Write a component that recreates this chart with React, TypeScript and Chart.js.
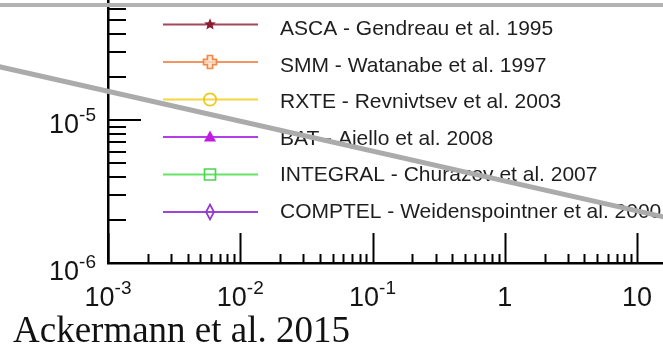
import React, { useEffect, useRef } from 'react';
import { Chart, registerables } from 'chart.js';

Chart.register(...registerables);

type Pt = { x: number; y: number };

// Surveys listed in the key
const surveyLabels = [
  'ASCA - Gendreau et al. 1995',
  'SMM - Watanabe et al. 1997',
  'RXTE - Revnivtsev et al. 2003',
  'BAT - Ajello et al. 2008',
  'INTEGRAL - Churazov et al. 2007',
  'COMPTEL - Weidenspointner et al. 2000',
];

// Spectral points per survey; every measured point sits above this flux window,
// so nothing of them falls inside the plotted range.
const ascaPoints: Pt[] = [];
const smmPoints: Pt[] = [];
const rxtePoints: Pt[] = [];
const batPoints: Pt[] = [];
const integralPoints: Pt[] = [];
const comptelPoints: Pt[] = [];

// Axis ranges (energy on x, flux on y)
const energyMin = 1e-3;
const energyMax = 15.7;
const fluxMin = 1e-6;
const fluxMax = 6.9e-5;

// Labelled ticks
const xTickValues = [1e-3, 1e-2, 1e-1, 1, 10];
const xTickLabels = ['10^-3', '10^-2', '10^-1', '1', '10'];
const yTickValues = [1e-6, 1e-5];
const yTickLabels = ['10^-6', '10^-5'];

// Grey guide strokes laid over the panel
const guideTop: Pt[] = [
  { x: 1e-4, y: 6.37e-5 },
  { x: 20, y: 6.37e-5 },
];
const guideDiagonal: Pt[] = [
  { x: 1e-4, y: 2.57e-5 },
  { x: 20, y: 2.0e-6 },
];

const captionText = 'Ackermann et al. 2015';

// Styling for each survey entry
const surveyStyles = [
  { line: '#a1495a', marker: '#8c1b2d', shape: 'star' },
  { line: '#f39561', marker: '#ef8a4d', shape: 'plus' },
  { line: '#f6d640', marker: '#ecc81e', shape: 'circle' },
  { line: '#b13ee6', marker: '#c21ce4', shape: 'triangle' },
  { line: '#66e466', marker: '#4fd54f', shape: 'square' },
  { line: '#9f44d8', marker: '#9236d0', shape: 'diamond' },
];

const SANS = '"Liberation Sans", Arial, Helvetica, sans-serif';

function drawMarker(ctx: CanvasRenderingContext2D, shape: string, x: number, y: number, color: string) {
  ctx.save();
  ctx.lineWidth = 1.7;
  ctx.strokeStyle = color;
  ctx.fillStyle = color;
  ctx.beginPath();
  if (shape === 'star') {
    const R = 6.2;
    const r = 2.7;
    for (let k = 0; k < 10; k++) {
      const a = -Math.PI / 2 + (k * Math.PI) / 5;
      const rad = k % 2 ? r : R;
      ctx.lineTo(x + rad * Math.cos(a), y + rad * Math.sin(a));
    }
    ctx.closePath();
    ctx.fill();
  } else if (shape === 'plus') {
    const a = 6.5;
    const b = 2.6;
    const pts = [
      [-b, -a], [b, -a], [b, -b], [a, -b], [a, b], [b, b],
      [b, a], [-b, a], [-b, b], [-a, b], [-a, -b], [-b, -b],
    ];
    pts.forEach(([px, py]) => ctx.lineTo(x + px, y + py));
    ctx.closePath();
    ctx.fillStyle = 'rgba(255,225,200,0.75)';
    ctx.fill();
    ctx.stroke();
  } else if (shape === 'circle') {
    ctx.arc(x, y, 6.2, 0, Math.PI * 2);
    ctx.stroke();
  } else if (shape === 'triangle') {
    ctx.moveTo(x, y - 6.5);
    ctx.lineTo(x + 6, y + 4.5);
    ctx.lineTo(x - 6, y + 4.5);
    ctx.closePath();
    ctx.fill();
  } else if (shape === 'square') {
    ctx.rect(x - 5.5, y - 5.5, 11, 11);
    ctx.stroke();
  } else if (shape === 'diamond') {
    ctx.moveTo(x, y - 7.5);
    ctx.lineTo(x + 4, y);
    ctx.lineTo(x, y + 7.5);
    ctx.lineTo(x - 4, y);
    ctx.closePath();
    ctx.stroke();
  }
  ctx.restore();
}

// Draws "10^-5" style text with a raised exponent; returns nothing.
function drawPowerLabel(
  ctx: CanvasRenderingContext2D,
  label: string,
  anchorX: number,
  baseline: number,
  align: 'center' | 'right'
) {
  const [base, exp] = label.split('^');
  const baseFont = `27px ${SANS}`;
  const expFont = `19px ${SANS}`;
  ctx.font = baseFont;
  const wBase = ctx.measureText(base).width;
  ctx.font = expFont;
  const wExp = exp ? ctx.measureText(exp).width : 0;
  const total = wBase + wExp;
  const left = align === 'center' ? anchorX - total / 2 : anchorX - total;
  ctx.textAlign = 'left';
  ctx.textBaseline = 'alphabetic';
  ctx.font = baseFont;
  ctx.fillText(base, left, baseline);
  if (exp) {
    ctx.font = expFont;
    ctx.fillText(exp, left + wBase, baseline - 12);
  }
}

const axisDecor = {
  id: 'axisDecor',
  beforeDatasetsDraw(chart: any) {
    const { ctx, chartArea, scales } = chart;
    const xs = scales.x;
    const ys = scales.y;
    ctx.save();
    ctx.strokeStyle = '#000';
    ctx.lineWidth = 2;

    // inward minor and major ticks on the energy axis
    for (let d = -3; d <= 1; d++) {
      for (let m = 1; m <= 9; m++) {
        const v = m * Math.pow(10, d);
        if (v < energyMin || v > energyMax) continue;
        const px = Math.round(xs.getPixelForValue(v)) + 0.5;
        const len = m === 1 ? 30 : 9;
        ctx.beginPath();
        ctx.moveTo(px, chartArea.bottom);
        ctx.lineTo(px, chartArea.bottom - len);
        ctx.stroke();
      }
    }
    // inward minor and major ticks on the flux axis
    for (let d = -6; d <= -4; d++) {
      for (let m = 1; m <= 9; m++) {
        const v = m * Math.pow(10, d);
        if (v < fluxMin || v > fluxMax) continue;
        const py = Math.round(ys.getPixelForValue(v));
        const len = m === 1 ? 33 : 18;
        ctx.beginPath();
        ctx.moveTo(chartArea.left, py);
        ctx.lineTo(chartArea.left + len, py);
        ctx.stroke();
      }
    }

    // tick labels
    ctx.fillStyle = '#141414';
    xTickValues.forEach((v, i) => {
      drawPowerLabel(ctx, xTickLabels[i], xs.getPixelForValue(v), chartArea.bottom + 43, 'center');
    });
    yTickValues.forEach((v, i) => {
      const py = ys.getPixelForValue(v);
      const drop = v === fluxMin ? 17 : 13;
      drawPowerLabel(ctx, yTickLabels[i], chartArea.left - 12, py + drop, 'right');
    });

    // key
    surveyLabels.forEach((label, i) => {
      const st = surveyStyles[i];
      const ly = 24.5 + i * 37.5;
      ctx.strokeStyle = st.line;
      ctx.lineWidth = 2;
      ctx.beginPath();
      ctx.moveTo(163, ly);
      ctx.lineTo(258, ly);
      ctx.stroke();
      drawMarker(ctx, st.shape, 210, ly, st.marker);
      ctx.fillStyle = '#1e1e1e';
      ctx.font = `21px ${SANS}`;
      ctx.textAlign = 'left';
      ctx.textBaseline = 'alphabetic';
      ctx.fillText(label, 280, 35 + i * 36.5);
    });
    ctx.restore();
  },
};

export default function App() {
  const canvasRef = useRef<HTMLCanvasElement | null>(null);

  useEffect(() => {
    const canvas = canvasRef.current;
    if (!canvas) return;
    const seriesData = [ascaPoints, smmPoints, rxtePoints, batPoints, integralPoints, comptelPoints];
    const surveyDatasets = surveyLabels.map((label, i) => ({
      label,
      data: seriesData[i],
      borderColor: surveyStyles[i].line,
      backgroundColor: surveyStyles[i].marker,
      showLine: true,
      borderWidth: 2,
      pointRadius: 4,
    }));
    const guideDatasets = [guideTop, guideDiagonal].map((pts, i) => ({
      label: i === 0 ? 'guide-top' : 'guide-diagonal',
      data: pts,
      borderColor: i === 0 ? '#b2b2b2' : '#ababab',
      borderWidth: i === 0 ? 4 : 5,
      showLine: true,
      pointRadius: 0,
      clip: false as const,
    }));

    const chart = new Chart(canvas, {
      type: 'scatter',
      data: { datasets: [...surveyDatasets, ...guideDatasets] as any },
      options: {
        responsive: false,
        animation: false,
        events: [],
        layout: { padding: { left: 108, right: 0, top: 0, bottom: 94 }, autoPadding: false },
        plugins: { legend: { display: false }, tooltip: { enabled: false } },
        scales: {
          x: {
            type: 'logarithmic',
            min: energyMin,
            max: energyMax,
            grid: { display: false, drawTicks: false },
            ticks: { display: false },
            border: { display: true, color: '#000', width: 2.5 },
          },
          y: {
            type: 'logarithmic',
            position: 'left',
            min: fluxMin,
            max: fluxMax,
            grid: { display: false, drawTicks: false },
            ticks: { display: false },
            border: { display: true, color: '#000', width: 2.5 },
          },
        },
      },
      plugins: [axisDecor],
    });
    return () => chart.destroy();
  }, []);

  return (
    <div style={{ position: 'absolute', left: 0, top: 0, width: 663, height: 357, background: '#fff' }}>
      <canvas ref={canvasRef} width={663} height={357} style={{ width: 663, height: 357, display: 'block' }} />
      <div
        style={{
          position: 'absolute',
          left: 13,
          top: 311,
          font: '37px "Liberation Serif", "Times New Roman", serif',
          lineHeight: '37px',
          color: '#111',
          whiteSpace: 'nowrap',
        }}
      >
        {captionText}
      </div>
    </div>
  );
}
